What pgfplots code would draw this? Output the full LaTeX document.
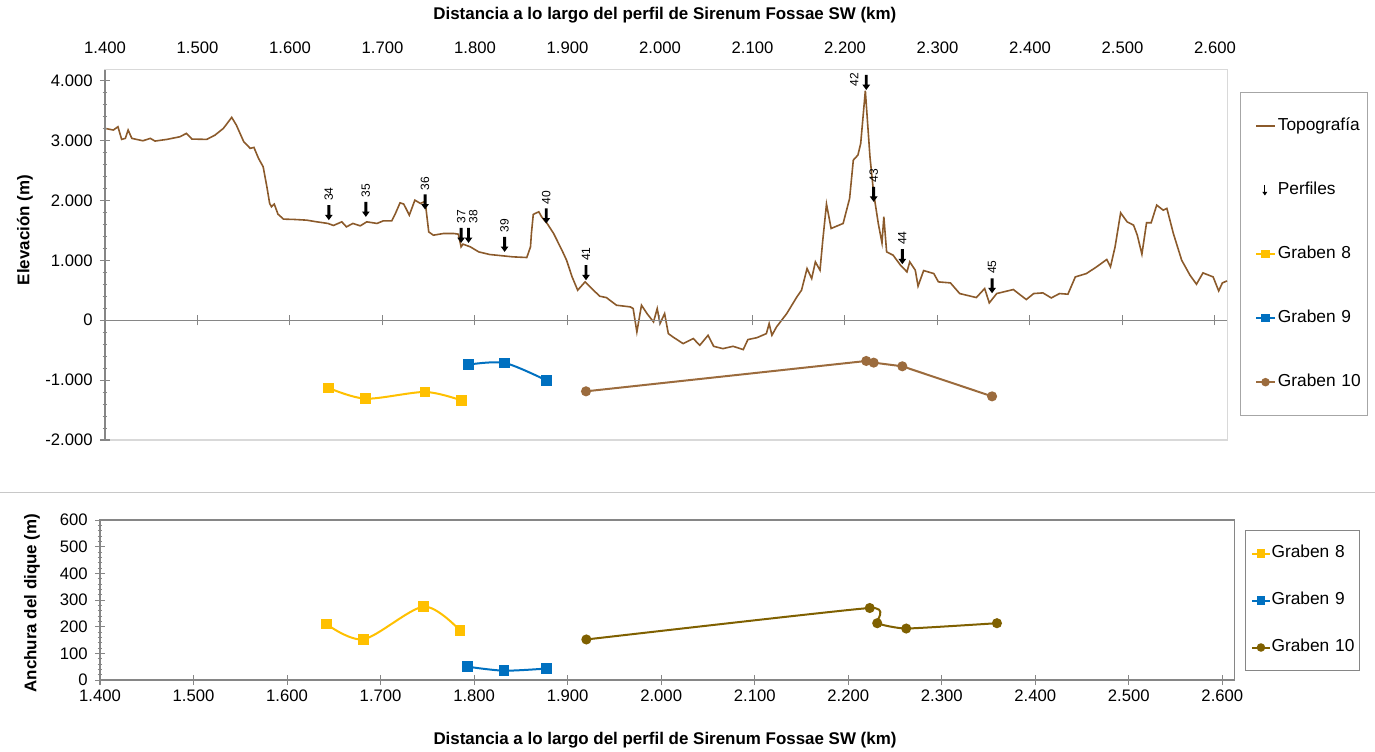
\documentclass[border=0pt]{standalone}
\usepackage{fontspec}
\setmainfont{Liberation Sans}
\usepackage{pgfplots}
\usepackage{pgfplotstable}
\pgfplotsset{compat=1.18}
\usetikzlibrary{arrows.meta}

\definecolor{topo}{HTML}{8B5A2B}
\definecolor{gA}{HTML}{FFC000}
\definecolor{gB}{HTML}{0070C0}
\definecolor{gC}{HTML}{9B6B3D}
\definecolor{gD}{HTML}{7F6000}
\definecolor{framegray}{HTML}{D9D9D9}
\definecolor{axisgray}{HTML}{868686}
\definecolor{sepgray}{HTML}{C8C8C8}
\definecolor{leggray}{HTML}{A6A6A6}

% down arrow marker, tip at the data point
\pgfdeclareplotmark{darrow}{%
  \pgfpathmoveto{\pgfpoint{-1.1pt}{11.25pt}}%
  \pgfpathlineto{\pgfpoint{1.1pt}{11.25pt}}%
  \pgfpathlineto{\pgfpoint{1.1pt}{4pt}}%
  \pgfpathlineto{\pgfpoint{2.9pt}{4pt}}%
  \pgfpathlineto{\pgfpoint{0pt}{0pt}}%
  \pgfpathlineto{\pgfpoint{-2.9pt}{4pt}}%
  \pgfpathlineto{\pgfpoint{-1.1pt}{4pt}}%
  \pgfpathclose
  \pgfusepathqfill}

% topography along the profile (km, m)
\pgfplotstableread{
x y
1400 3205
1409 3177
1414 3232
1418 3021
1422 3038
1425 3177
1429 3038
1434 3021
1441 2998
1449 3038
1454 2993
1467 3021
1481 3065
1488 3121
1494 3026
1510 3021
1519 3093
1528 3205
1537 3389
1542 3260
1550 2981
1557 2871
1561 2887
1566 2703
1571 2563
1575 2229
1578 1951
1580 1895
1583 1940
1587 1772
1593 1689
1604 1684
1618 1672
1629 1644
1641 1617
1647 1583
1656 1644
1661 1560
1668 1617
1676 1577
1683 1644
1694 1617
1701 1661
1710 1661
1714 1784
1719 1962
1723 1940
1729 1756
1735 2006
1741 1951
1745 1978
1747 1868
1750 1476
1755 1421
1766 1449
1777 1449
1782 1438
1785 1226
1787 1271
1795 1226
1804 1142
1816 1098
1841 1059
1856 1048
1860 1226
1861 1449
1863 1767
1865 1784
1869 1811
1872 1728
1878 1617
1885 1449
1894 1170
1899 1003
1905 724
1911 502
1919 641
1928 502
1935 401
1942 379
1953 251
1968 223
1971 195
1975 -195
1980 251
1986 111
1993 -28
1997 195
2000 -56
2005 111
2009 -223
2014 -279
2025 -390
2036 -306
2043 -418
2052 -251
2058 -435
2068 -474
2079 -435
2090 -490
2095 -323
2105 -290
2115 -223
2118 -56
2121 -251
2126 -111
2137 111
2148 390
2153 502
2159 864
2164 697
2168 975
2173 836
2176 1338
2180 1940
2185 1533
2198 1617
2205 2035
2209 2675
2214 2759
2217 2954
2222 3834
2227 2731
2231 2118
2236 1617
2240 1292
2242 1728
2245 1142
2252 1087
2260 920
2267 808
2270 975
2276 836
2279 570
2285 830
2296 780
2301 641
2314 624
2324 446
2342 379
2351 530
2356 290
2364 446
2382 513
2396 346
2404 446
2414 457
2423 373
2432 446
2441 435
2449 724
2461 780
2472 892
2483 1015
2487 892
2492 1226
2498 1795
2505 1644
2512 1588
2516 1421
2521 1104
2526 1628
2531 1628
2537 1923
2544 1839
2548 1868
2555 1449
2564 1003
2573 752
2580 602
2587 791
2598 724
2604 490
2608 624
2613 657
}\topo

% profile positions (arrow tip on the topography)
\pgfplotstableread{
x y lab
1642 1672 34
1682 1727 35
1746 1851 36
1785 1292 37
1832 1142 39
1877 1617 40
1920 669 41
2231 1978 43
2262 936 44
2359 451 45
}\perfiles

\tikzset{
  tickfont/.style={font=\fontsize{12.5}{14}\selectfont},
  labfont/.style={font=\bfseries\fontsize{12.7}{15}\selectfont},
  arrfont/.style={font=\fontsize{9}{10}\selectfont},
}
\pgfplotsset{
  /pgf/number format/.cd, fixed, precision=0, 1000 sep={.}, assume math mode=true,
}

\begin{document}
\begin{tikzpicture}
\useasboundingbox (0,0) rectangle (1031.25pt,-564pt);
\draw[sepgray, line width=0.75pt] (0,-369pt) -- (1031.25pt,-369pt);

% upper chart: data, frame and top labels
\begin{axis}[
  at={(78.75pt,-330pt)}, anchor=south west, scale only axis,
  width=841.5pt, height=277.5pt,
  xmin=1400, xmax=2613, ymin=-2000, ymax=4180,
  scaled ticks=false, clip=false,
  axis line style={draw=framegray, line width=0.75pt},
  xtick={1400,1500,...,2600}, xticklabel pos=upper, major tick length=0pt,
  xticklabel shift=8.6pt,
  ytick=\empty,
  tick label style={tickfont},
  xlabel={Distancia a lo largo del perfil de Sirenum Fossae SW (km)},
  xlabel style={labfont, at={(axis description cs:0.499,1.1486)}, anchor=center},
  legend cell align=left,
  legend image code/.code={%
    \path (0pt,0pt) (26.5pt,0pt);
    \draw[mark repeat=2,mark phase=2,#1,mark size=2.4pt] plot coordinates {(11pt,0pt) (18pt,0pt) (25pt,0pt)};},
  legend style={at={(1.0116,0.9405)}, anchor=north west, draw=leggray, line width=0.75pt,
    inner xsep=0pt, inner ysep=19pt, row sep=35.5pt, font=\fontsize{13}{15}\selectfont,
    nodes={inner sep=0pt, text height=9.5pt, text depth=3pt, text width=67pt}},
]
\addplot[topo, line width=1.2pt, no marks] table[x=x, y=y] {\topo};
\addlegendentry{Topografía}

\addplot[black, only marks, mark=darrow,
  nodes near coords, point meta=explicit symbolic,
  nodes near coords style={arrfont, inner sep=0pt, anchor=center, yshift=19.5pt, rotate=90},
  legend image code/.code={%
    \path (0pt,0pt) (26.5pt,0pt);
    \draw[black, line width=0.9pt, -{Triangle[length=2.8pt,width=3.6pt]}] (17.5pt,4pt) -- (17.5pt,-4pt);}]
  table[x=x, y=y, meta=lab] {\perfiles};
\addlegendentry{Perfiles}

% profile 38: label set a little to the right of its arrow
\addplot[black, only marks, mark=darrow, forget plot,
  nodes near coords, point meta=explicit symbolic,
  nodes near coords style={arrfont, inner sep=0pt, anchor=center, xshift=3.5pt, yshift=19.5pt, rotate=90}]
  table[meta=lab] {
x y lab
1793 1292 38
};

% profile 42: label to the left of its arrow
\addplot[black, only marks, mark=darrow, forget plot,
  nodes near coords, point meta=explicit symbolic,
  nodes near coords style={arrfont, inner sep=0pt, anchor=center, xshift=-9pt, yshift=7.5pt, rotate=90}]
  table[meta=lab] {
x y lab
2223 3846 42
};

\addplot[gA, line width=1.5pt, smooth, mark=square*, mark size=3.3pt] coordinates {
  (1642,-1132) (1682,-1310) (1746,-1198) (1785,-1338)};
\addlegendentry{Graben 8}
\addplot[gB, line width=1.5pt, smooth, mark=square*, mark size=3.3pt] coordinates {
  (1793,-741) (1832,-713) (1877,-1003)};
\addlegendentry{Graben 9}
\addplot[gC, line width=1.5pt, mark=*, mark size=3pt] coordinates {
  (1920,-1187) (2223,-680) (2231,-708) (2262,-769) (2359,-1271)};
\addlegendentry{Graben 10}
\end{axis}

% upper chart: y axis and zero line with ticks
\begin{axis}[
  at={(78.75pt,-330pt)}, anchor=south west, scale only axis,
  width=841.5pt, height=277.5pt,
  xmin=1400, xmax=2613, ymin=-2000, ymax=4180,
  scaled ticks=false,
  axis x line*=middle, axis y line*=left,
  axis line style={draw=axisgray, line width=0.9pt},
  xtick={1400,1500,...,2600}, xticklabels={},
  ytick={-2000,-1000,...,4000}, minor y tick num=4,
  tick align=center, major tick length=7.5pt, minor tick length=3.5pt,
  tick style={draw=axisgray, line width=0.75pt},
  tick label style={tickfont},
  yticklabel shift=2pt,
  ylabel={Elevación (m)},
  ylabel style={labfont, at={(axis description cs:-0.0713,0.5676)}, anchor=center},
]
\end{axis}

% lower chart: dike width
\begin{axis}[
  at={(75pt,-510pt)}, anchor=south west, scale only axis,
  width=850.875pt, height=120pt,
  xmin=1400, xmax=2613, ymin=0, ymax=600,
  scaled ticks=false, clip=false,
  axis line style={draw=axisgray, line width=0.9pt},
  tick pos=left, tick align=center,
  xtick={1400,1500,...,2600}, ytick={0,100,...,600}, minor y tick num=4,
  major tick length=7.5pt, minor tick length=3.5pt,
  tick style={draw=axisgray, line width=0.75pt},
  tick label style={tickfont},
  yticklabel shift=2pt,
  xlabel={Distancia a lo largo del perfil de Sirenum Fossae SW (km)},
  xlabel style={labfont, at={(axis description cs:0.498,-0.375)}, anchor=center},
  ylabel={Anchura del dique (m)},
  ylabel style={labfont, at={(axis description cs:-0.0599,0.481)}, anchor=center},
  legend cell align=left,
  legend image code/.code={%
    \path (0pt,0pt) (18pt,0pt);
    \draw[mark repeat=2,mark phase=2,#1,mark size=2.4pt] plot coordinates {(4.3pt,0pt) (10.8pt,0pt) (17.3pt,0pt)};},
  legend style={at={(1.0093,0.9375)}, anchor=north west, draw=axisgray, line width=0.75pt,
    inner xsep=0pt, inner ysep=11pt, row sep=22.75pt, font=\fontsize{13}{15}\selectfont,
    nodes={inner sep=0pt, text height=9.5pt, text depth=3pt, text width=66pt}},
]
\addplot[gA, line width=1.5pt, smooth, mark=square*, mark size=3.3pt] coordinates {
  (1642,210) (1682,153) (1746,275) (1785,185)};
\addlegendentry{Graben 8}
\addplot[gB, line width=1.5pt, smooth, mark=square*, mark size=3.3pt] coordinates {
  (1793,50) (1832,35) (1877,43)};
\addlegendentry{Graben 9}
\addplot[gD, line width=1.5pt, smooth, tension=0.25, mark=*, mark size=3pt] coordinates {
  (1920,152) (2223,270) (2231,213) (2262,193) (2359,213)};
\addlegendentry{Graben 10}
\end{axis}
\end{tikzpicture}
\end{document}
